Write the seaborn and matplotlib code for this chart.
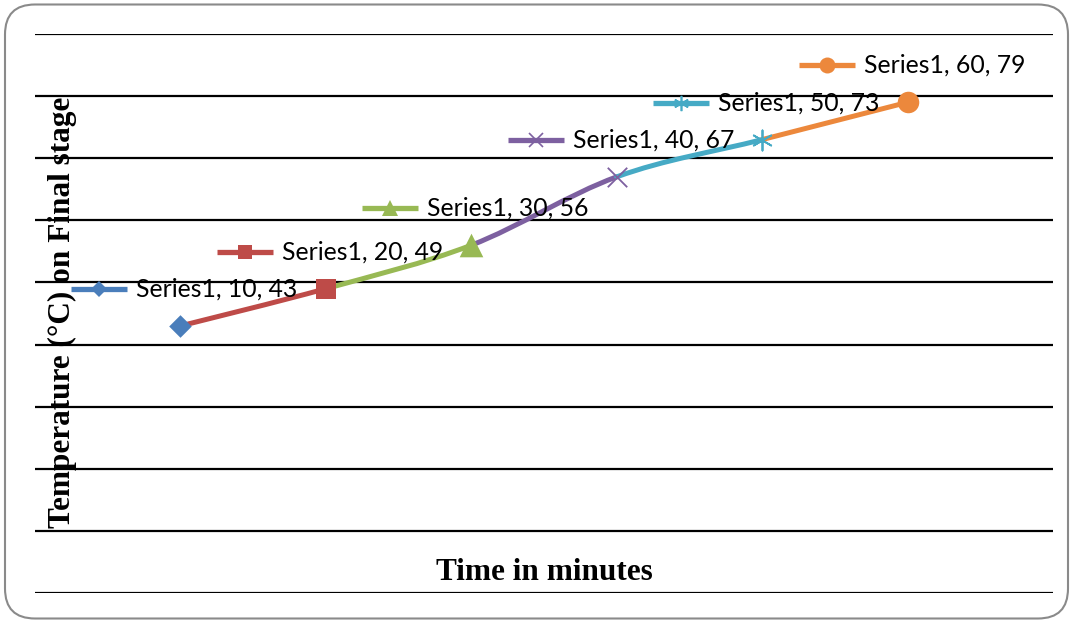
import matplotlib
matplotlib.use('Agg')
import matplotlib.pyplot as plt
from matplotlib.patches import FancyBboxPatch, PathPatch
from matplotlib.path import Path
from matplotlib.transforms import offset_copy
import numpy as np
import seaborn as sns

# data
minutes = [10, 20, 30, 40, 50, 60]
temps = [43, 49, 56, 67, 73, 79]
series_name = 'Series1'
colors = ['#4A7EBB', '#BE4B48', '#98B954', '#7D60A0', '#46AAC5', '#EC883C']
markers = ['D', 's', '^', 'x', (6, 2, 0), 'o']
msize = [11.5, 15, 17, 14, 14.5, 15.5]      # pt
ksize = [8.5, 10.5, 12, 10.5, 11, 11.5]     # pt, legend key markers

sns.set_style('white')
plt.rcParams['font.family'] = ['Lato', 'DejaVu Sans']
plt.rcParams['text.color'] = 'black'

f = plt.figure(figsize=(10.73, 6.22), dpi=100)
ax = f.add_axes([35/1073, 29/622, 1018/1073, 559/622])
ax.set_xlim(0, 70)
ax.set_ylim(0, 90)
for s in ax.spines.values():
	s.set_visible(False)
ax.set_xticks([])
ax.set_yticks([])
for g in range(0, 91, 10):
	ax.axhline(g, color='black', lw=1.6, zorder=1)

# smoothed line (excel style bezier), each segment coloured like the point it runs to
pts = np.column_stack([minutes, temps]).astype(float)
n = len(pts)
for i in range(n-1):
	p0 = pts[max(i-1, 0)]
	p1 = pts[i]
	p2 = pts[i+1]
	p3 = pts[min(i+2, n-1)]
	c1 = p1 + (p2-p0)/6
	c2 = p2 - (p3-p1)/6
	path = Path([p1, c1, c2, p2], [Path.MOVETO, Path.CURVE4, Path.CURVE4, Path.CURVE4])
	ax.add_patch(PathPatch(path, facecolor='none', edgecolor=colors[i+1], lw=3.6,
		capstyle='round', zorder=3))

for i in range(n):
	filled = markers[i] not in ['x', (6, 2, 0)]
	if filled:
		sns.scatterplot(x=[minutes[i]], y=[temps[i]], marker=markers[i], color=colors[i],
			s=msize[i]**2, linewidth=0, ax=ax, zorder=4)
	else:
		sns.scatterplot(x=[minutes[i]], y=[temps[i]], marker=markers[i], color=colors[i],
			s=msize[i]**2, linewidth=1.3, ax=ax, zorder=4)

	# data label with legend key, offset up-left of the point
	tk = offset_copy(ax.transData, fig=f, x=-81, y=37, units='dots')
	ax.plot([minutes[i]], [temps[i]], marker='_', markersize=40, mew=3.8,
		color=colors[i], transform=tk, zorder=5)
	if filled:
		ax.plot([minutes[i]], [temps[i]], marker=markers[i], markersize=ksize[i],
			color=colors[i], mew=0, transform=tk, zorder=6)
	else:
		ax.plot([minutes[i]], [temps[i]], marker=markers[i], markersize=ksize[i],
			color=colors[i], mew=1.2, transform=tk, zorder=6)
	tt = offset_copy(ax.transData, fig=f, x=-44, y=37, units='dots')
	ax.text(minutes[i], temps[i], '%s, %d, %d' % (series_name, minutes[i], temps[i]),
		transform=tt, ha='left', va='center', fontsize=17.8, color='black', zorder=7)

f.text(62/1073, 1-312/622, 'Temperature (°C) on Final stage', rotation=90,
	ha='center', va='center', fontsize=22.5, fontweight='bold', family='Liberation Serif',
	color='black')
f.text(544/1073, 1-572/622, 'Time in minutes', ha='center', va='center',
	fontsize=22.5, fontweight='bold', family='Liberation Serif', color='black')

box = FancyBboxPatch((0.05, 0.035), 10.63, 6.14, boxstyle='round,pad=0,rounding_size=0.3',
	transform=f.dpi_scale_trans, facecolor='none', edgecolor='#8a8a8a', lw=1.5)
f.patches.append(box)

plt.savefig('out.png', dpi=100)
